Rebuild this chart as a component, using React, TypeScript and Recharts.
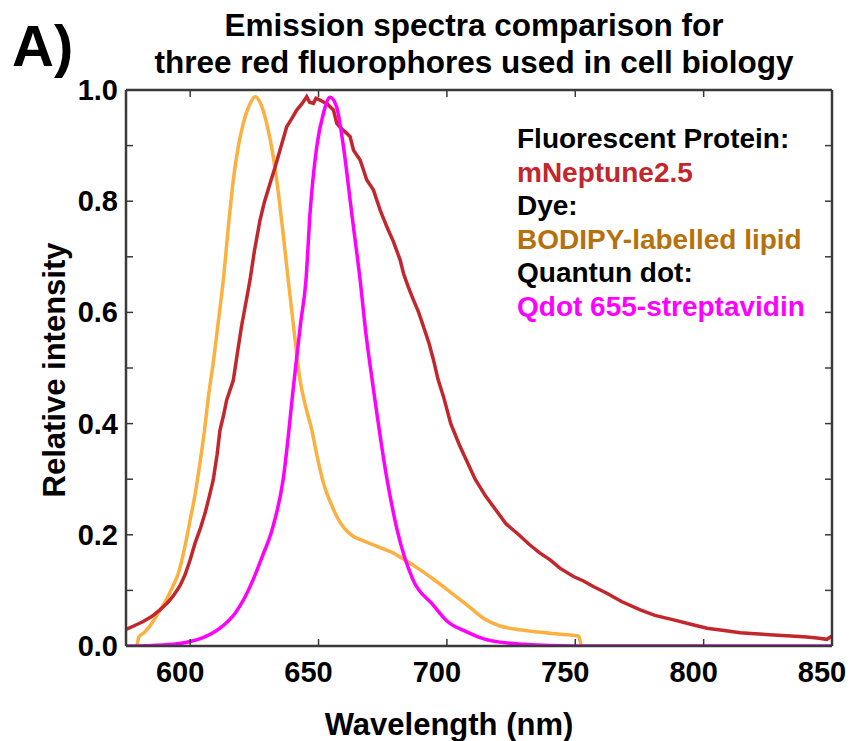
import { LineChart, Line, XAxis, YAxis } from 'recharts';

// emission spectra (wavelength nm, relative intensity)
const mNeptune: [number, number][] = [
  [575, 0.030], [578, 0.036], [581.7, 0.044], [585, 0.053], [588.2, 0.065], [591, 0.077],
  [593.4, 0.090], [596, 0.108], [598, 0.128], [600, 0.155], [601.9, 0.185], [604, 0.212],
  [605.8, 0.239], [607.5, 0.27], [609, 0.299], [610.5, 0.345], [611.6, 0.388], [613, 0.415],
  [614.2, 0.442], [616.8, 0.478], [618.5, 0.53], [620, 0.575], [621.8, 0.62], [623.3, 0.658],
  [625, 0.71], [627.2, 0.766], [629, 0.80], [631.1, 0.832], [633, 0.86], [635, 0.892],
  [637.6, 0.934], [639.5, 0.948], [641.5, 0.964], [643.5, 0.975], [645.4, 0.988], [646.5, 0.978],
  [648, 0.976], [649, 0.985], [650.6, 0.982], [652, 0.978], [653.2, 0.976], [654.5, 0.97],
  [655.8, 0.964], [657.1, 0.94], [659, 0.93], [661, 0.922], [662.3, 0.916], [663.6, 0.892],
  [665, 0.882], [666.2, 0.874], [668.8, 0.838], [671.4, 0.82], [674, 0.784], [676.6, 0.754],
  [679.2, 0.727], [681.8, 0.694], [683.1, 0.67], [685, 0.645], [687, 0.622], [689, 0.6],
  [690.9, 0.574], [693, 0.545], [694.8, 0.514], [696.5, 0.48], [698.7, 0.448], [701.5, 0.40],
  [705, 0.36], [708, 0.33], [711, 0.30], [715, 0.27], [719, 0.245], [723, 0.22], [728, 0.20],
  [732, 0.183], [736, 0.168], [740.2, 0.155], [744, 0.14], [749.3, 0.125], [753.2, 0.117],
  [757, 0.107], [762.3, 0.095], [768, 0.08], [775.3, 0.065], [781, 0.055], [788.3, 0.047],
  [795, 0.039], [801.3, 0.032], [808, 0.028], [814.3, 0.024], [820, 0.022], [827.3, 0.020],
  [834, 0.018], [840.2, 0.016], [845, 0.014], [848, 0.012], [850, 0.018],
];

const bodipy: [number, number][] = [
  [579.3, 0], [580, 0.016], [582, 0.024], [584, 0.034], [587, 0.055], [590.9, 0.085],
  [593, 0.105], [595.4, 0.131], [598, 0.18], [600, 0.227], [602, 0.275], [603.8, 0.329],
  [605.5, 0.385], [607.1, 0.448], [609, 0.51], [611, 0.585], [612.9, 0.658], [615, 0.76],
  [616.8, 0.838], [618.8, 0.9], [620.7, 0.94], [623, 0.972], [625.3, 0.988], [627.5, 0.975],
  [629.8, 0.94], [631.8, 0.895], [633.7, 0.838], [636, 0.75], [638.2, 0.658], [640.5, 0.565],
  [642.8, 0.478], [645, 0.43], [647.4, 0.388], [649.5, 0.34], [651.9, 0.293], [654.5, 0.26],
  [657.1, 0.233], [660, 0.212], [663.6, 0.197], [667, 0.19], [671.4, 0.182], [675, 0.175],
  [679.2, 0.167], [682.5, 0.158], [685.7, 0.149], [689.6, 0.137], [694.8, 0.12], [701.3, 0.097],
  [708, 0.073], [714.2, 0.05], [720.7, 0.036], [727, 0.03], [733.7, 0.026], [742, 0.022],
  [751.3, 0.018], [752.5, 0], [800, 0],
];

const qdot: [number, number][] = [
  [575, 0], [585, 0.001], [595, 0.004], [600, 0.008], [605, 0.015], [611.6, 0.032],
  [617.5, 0.059], [621, 0.085], [624.5, 0.119], [628, 0.16], [631.9, 0.209], [636.2, 0.299],
  [640.5, 0.478], [643, 0.58], [645.1, 0.658], [646.7, 0.779], [649.3, 0.898], [652, 0.96],
  [654.5, 0.987], [657, 0.97], [659.7, 0.898], [662.9, 0.779], [666.2, 0.658], [668.5, 0.56],
  [670.9, 0.478], [676.7, 0.299], [680.6, 0.209], [686.8, 0.119], [694.6, 0.074], [700, 0.045],
  [707.9, 0.025], [715, 0.012], [720.7, 0.007], [730, 0.003], [740, 0.001], [760, 0], [850, 0],
];

const xTicks = [600, 650, 700, 750, 800, 850];
const yTicks = [0, 0.1, 0.2, 0.3, 0.4, 0.5, 0.6, 0.7, 0.8, 0.9, 1.0];
const yLabelled = [0, 0.2, 0.4, 0.6, 0.8, 1.0];

const titleLines = ['Emission spectra comparison for', 'three red fluorophores used in cell biology'];
const legendLines = [
  { text: 'Fluorescent Protein:', color: '#000000' },
  { text: 'mNeptune2.5', color: '#c1272d' },
  { text: 'Dye:', color: '#000000' },
  { text: 'BODIPY-labelled lipid', color: '#b5710e' },
  { text: 'Quantun dot:', color: '#000000' },
  { text: 'Qdot 655-streptavidin', color: '#ff00ff' },
];

const FONT = '"Liberation Sans", Arial, sans-serif';
const AXIS = '#3a3a3a';

const toRows = (pts: [number, number][]) => pts.map(([x, y]) => ({ x, y }));

const BottomTick = (p: any) => (
  <g>
    <line x1={p.x} y1={p.y} x2={p.x} y2={p.y - 7} stroke={AXIS} strokeWidth={1.5} />
    <text x={p.x - 10} y={p.y + 36} textAnchor="middle" fontSize={29} fontWeight="bold" fontFamily={FONT} fill="#000">
      {p.payload.value}
    </text>
  </g>
);

const TopTick = (p: any) => (
  <line x1={p.x} y1={p.y} x2={p.x} y2={p.y + 7} stroke={AXIS} strokeWidth={1.5} />
);

const LeftTick = (p: any) => {
  const v = p.payload.value;
  const show = yLabelled.some(t => Math.abs(t - v) < 1e-6);
  return (
    <g>
      <line x1={p.x} y1={p.y} x2={p.x + 7} y2={p.y} stroke={AXIS} strokeWidth={1.5} />
      {show && (
        <text x={p.x - 8} y={p.y + 10} textAnchor="end" fontSize={29} fontWeight="bold" fontFamily={FONT} fill="#000">
          {v.toFixed(1)}
        </text>
      )}
    </g>
  );
};

const RightTick = (p: any) => (
  <line x1={p.x} y1={p.y} x2={p.x - 7} y2={p.y} stroke={AXIS} strokeWidth={1.5} />
);

export default function App() {
  return (
    <div style={{ position: 'absolute', left: 0, top: 0, width: 851, height: 741, background: '#fff' }}>
      <LineChart width={851} height={741} margin={{ top: 0, right: 0, bottom: 0, left: 0 }}>
        <XAxis
          xAxisId="b" dataKey="x" type="number" domain={[575, 850]} ticks={xTicks}
          allowDataOverflow height={95} tickSize={0} tickMargin={0}
          axisLine={{ stroke: AXIS, strokeWidth: 2.5 }} tickLine={false} tick={BottomTick}
        />
        <XAxis
          xAxisId="t" orientation="top" dataKey="x" type="number" domain={[575, 850]} ticks={xTicks}
          allowDataOverflow height={90} tickSize={0} tickMargin={0}
          axisLine={{ stroke: AXIS, strokeWidth: 2.5 }} tickLine={false} tick={TopTick}
        />
        <YAxis
          yAxisId="l" type="number" domain={[0, 1]} ticks={yTicks} allowDataOverflow
          width={126} tickSize={0} tickMargin={0}
          axisLine={{ stroke: AXIS, strokeWidth: 2.5 }} tickLine={false} tick={LeftTick}
        />
        <YAxis
          yAxisId="r" orientation="right" type="number" domain={[0, 1]} ticks={yTicks} allowDataOverflow
          width={19} tickSize={0} tickMargin={0}
          axisLine={{ stroke: AXIS, strokeWidth: 2.5 }} tickLine={false} tick={RightTick}
        />
        <Line xAxisId="b" yAxisId="l" data={toRows(bodipy)} dataKey="y" stroke="#fbb040"
          strokeWidth={3.5} dot={false} type="monotone" isAnimationActive={false} />
        <Line xAxisId="b" yAxisId="l" data={toRows(mNeptune)} dataKey="y" stroke="#c1272d"
          strokeWidth={3.5} dot={false} type="linear" isAnimationActive={false} />
        <Line xAxisId="b" yAxisId="l" data={toRows(qdot)} dataKey="y" stroke="#ff00ff"
          strokeWidth={3.5} dot={false} type="monotone" isAnimationActive={false} />
      </LineChart>
      <svg width={851} height={741} style={{ position: 'absolute', left: 0, top: 0, pointerEvents: 'none' }}
        fontFamily={FONT} fontWeight="bold">
        <text x={12} y={66} fontSize={58}>A)</text>
        {titleLines.map((t, i) => (
          <text key={t} x={474} y={36 + i * 37} fontSize={31.5} textAnchor="middle">{t}</text>
        ))}
        {legendLines.map((l, i) => (
          <text key={l.text} x={517} y={148 + i * 33.6} fontSize={28} fill={l.color}>{l.text}</text>
        ))}
        <text x={449} y={735} fontSize={31} textAnchor="middle">Wavelength (nm)</text>
        <text x={0} y={0} fontSize={31} textAnchor="middle" transform="translate(65 370) rotate(-90)">
          Relative intensity
        </text>
      </svg>
    </div>
  );
}
